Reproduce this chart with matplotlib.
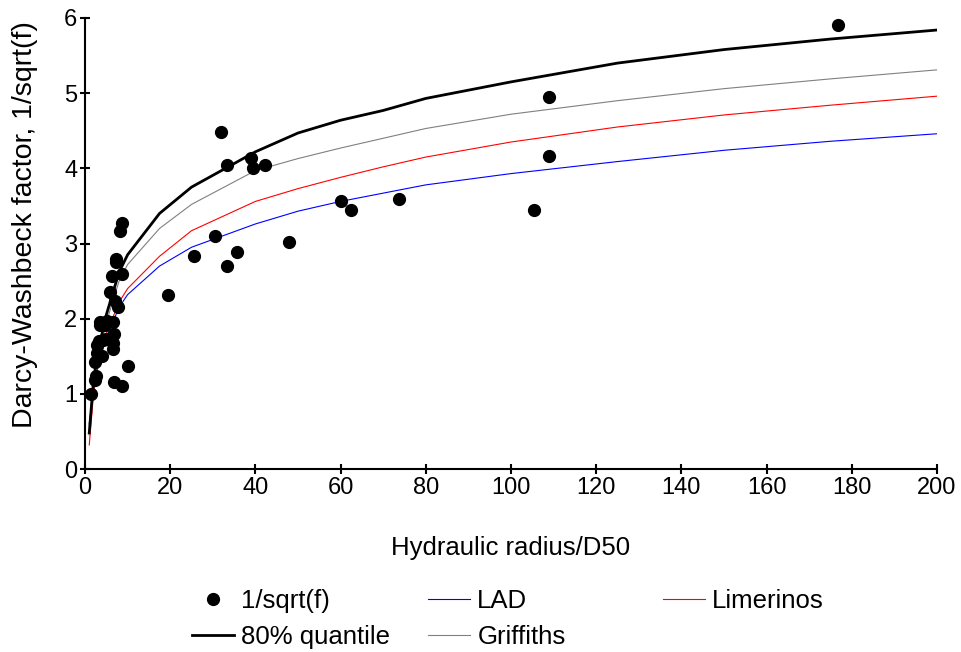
import numpy as np
import matplotlib.pyplot as plt

plt.rcParams['font.family'] = ['Liberation Sans', 'DejaVu Sans']

# observed points: hydraulic radius / D50 vs 1/sqrt(f)
obs_x = [1.5, 2.4, 2.5, 2.4, 2.7, 2.9, 3.3, 3.5, 3.6, 4.0, 4.3, 4.6, 5.0, 5.2,
         5.9, 6.0, 6.4, 6.5, 6.6, 6.6, 6.8, 6.9, 7.0, 7.2, 7.3, 7.7, 8.2, 8.7,
         8.8, 8.8, 10.2, 19.6, 25.7, 30.5, 31.9, 33.3, 33.3, 35.7, 38.9, 39.5,
         42.3, 48.0, 60.2, 62.5, 73.8, 105.4, 108.9, 108.9, 176.8]
obs_y = [1.00, 1.19, 1.24, 1.43, 1.54, 1.65, 1.70, 1.91, 1.96, 1.50, 1.72, 1.92,
         1.73, 1.97, 2.36, 1.72, 2.57, 1.95, 1.60, 1.67, 1.80, 1.16, 2.23, 2.80,
         2.76, 2.16, 3.16, 3.27, 2.60, 1.10, 1.37, 2.31, 2.84, 3.10, 4.48, 4.04,
         2.70, 2.89, 4.14, 4.01, 4.04, 3.02, 3.56, 3.45, 3.59, 3.45, 4.95, 4.16,
         5.91]

# curves
curve_x = [1, 2, 3, 5, 8, 10, 17.5, 25, 40, 50, 60, 70, 80, 100, 125, 150, 175, 200]
q80 = [0.48, 1.18, 1.55, 2.05, 2.62, 2.85, 3.40, 3.75, 4.22, 4.47, 4.64, 4.77,
       4.93, 5.15, 5.40, 5.58, 5.72, 5.84]
griffiths = [0.45, 1.10, 1.45, 1.95, 2.50, 2.72, 3.20, 3.52, 3.97, 4.13, 4.27,
             4.40, 4.53, 4.72, 4.90, 5.06, 5.19, 5.31]
limerinos = [0.32, 1.00, 1.35, 1.80, 2.22, 2.40, 2.83, 3.17, 3.56, 3.73, 3.88,
             4.02, 4.15, 4.35, 4.55, 4.71, 4.84, 4.96]
lad = [0.60, 1.05, 1.35, 1.75, 2.15, 2.32, 2.70, 2.95, 3.26, 3.43, 3.56, 3.67,
       3.78, 3.93, 4.09, 4.24, 4.36, 4.46]

fig = plt.figure(figsize=(9.62, 6.52), dpi=100)
ax = fig.add_axes([85/962, 1 - 469/652, (937-85)/962, (469-18)/652])

h_pts, = ax.plot(obs_x, obs_y, 'o', color='black', ms=8.5, zorder=5)
h_lad, = ax.plot(curve_x, lad, color='blue', lw=0.8)
h_lim, = ax.plot(curve_x, limerinos, color='red', lw=0.8)
h_gri, = ax.plot(curve_x, griffiths, color='gray', lw=0.8)
h_q80, = ax.plot(curve_x, q80, color='black', lw=2)

ax.set_xlim(0, 200)
ax.set_ylim(0, 6)
ax.set_xticks(np.arange(0, 201, 20))
ax.set_yticks(np.arange(0, 7, 1))
for s in ['top', 'right']:
    ax.spines[s].set_visible(False)
for s in ['left', 'bottom']:
    ax.spines[s].set_linewidth(1.5)
ax.tick_params(direction='inout', length=7, width=1.5, labelsize=17, pad=2)

ax.set_xlabel('Hydraulic radius/D50', fontsize=18.5)
ax.xaxis.set_label_coords(0.5, -(548 - 469) / 451, transform=ax.transAxes)
ax.xaxis.label.set_va('center')
ax.set_ylabel('Darcy-Washbeck factor, 1/sqrt(f)', fontsize=20.5)
ax.yaxis.set_label_coords(-(85 - 25) / 852, (469 - 225) / 451)
ax.yaxis.label.set_va('center')

kw = dict(loc='upper left', frameon=False, fontsize=18.5, borderpad=0,
          borderaxespad=0, handlelength=1.65, handletextpad=0.27,
          labelspacing=0.45)
y_leg = 1 - 589/652
leg1 = fig.legend([h_pts, h_q80], ['1/sqrt(f)', '80% quantile'],
                  bbox_to_anchor=(192/962, y_leg), **kw)
leg2 = fig.legend([h_lad, h_gri], ['LAD', 'Griffiths'],
                  bbox_to_anchor=(428/962, y_leg), **kw)
leg3 = fig.legend([h_lim], ['Limerinos'],
                  bbox_to_anchor=(663/962, y_leg), **kw)

fig.savefig('out.png', dpi=100)
